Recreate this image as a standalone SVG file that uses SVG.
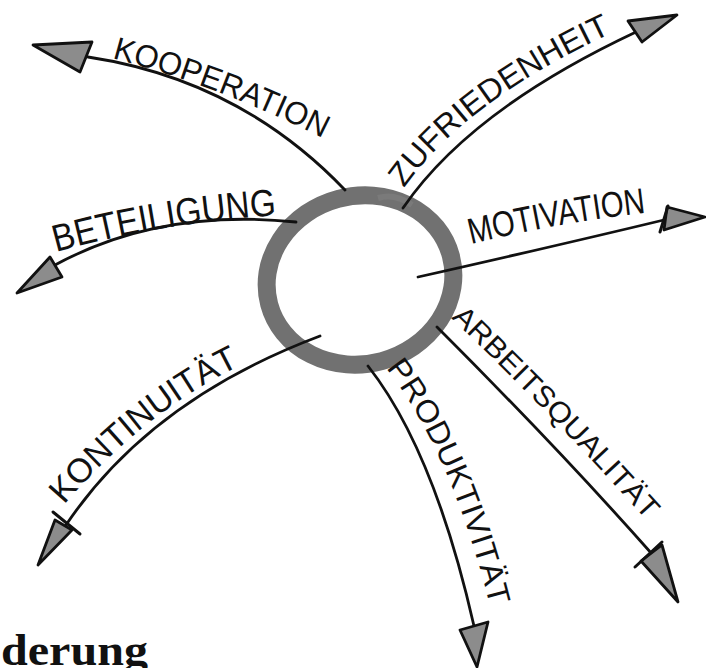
<svg xmlns="http://www.w3.org/2000/svg" width="706" height="668" viewBox="0 0 706 668">
<style>
.line{fill:none;stroke:#111;stroke-width:2.8;stroke-linecap:round}
.head{fill:#8c8c8c;stroke:#111;stroke-width:2.8;stroke-linejoin:round}
.bar{fill:none;stroke:#111;stroke-width:3;stroke-linecap:round}
.lbl{font-family:"Liberation Sans","DejaVu Sans",sans-serif;fill:#111}
.ring{fill:none;stroke:#717171;stroke-width:18}
</style>
<defs>
<path id="tp-koop" d="M112,58 Q225,88 330,142"/>
<path id="tp-bet" d="M56,252 Q165,222 282,215"/>
<path id="tp-kont" d="M64,505 Q150,405 256,358"/>
<path id="tp-prod" d="M386,368 Q454,455 494,622"/>
<path id="tp-arb" d="M451,318 Q558,420 664,540"/>
<path id="tp-mot" d="M471,244 Q560,222 652,212"/>
<path id="tp-zuf" d="M404,188 Q466,100 618,30"/>
</defs>
<rect width="706" height="668" fill="#fff"/>
<g id="center">
<ellipse class="ring" cx="360" cy="280" rx="94" ry="84" transform="rotate(-15 360 280)"/>
<path d="M378,198 Q395,193 412,205" fill="none" stroke="#7a7a7a" stroke-width="6"/>
</g>
<g id="connectors">
<path class="line" d="M345,190 Q240,80 88,57"/>
<polygon class="head" points="33,45 92,42 80,72"/>
<path class="line" d="M296,222 Q160,208 55,265"/>
<polygon class="head" points="17,293 50,257 62,277"/>
<path class="line" d="M320,336 Q150,400 66,525"/>
<polygon class="head" points="38,565 55,520 72,530"/>
<path class="bar" d="M53,512 L80,534"/>
<path class="line" d="M368,366 Q434,450 474,626"/>
<polygon class="head" points="477,667 460,630 488,622"/>
<path class="line" d="M437,327 Q560,450 652,554"/>
<polygon class="head" points="678,602 641,561 662,545"/>
<path class="bar" d="M635,567 L662,542"/>
<path class="line" d="M418,277 Q560,245 668,219"/>
<polygon class="head" points="705,217 667,207 664,230"/>
<path class="bar" d="M668,206 L660,232"/>
<path class="line" d="M403,208 Q470,110 636,32"/>
<polygon class="head" points="677,15 628,21 642,42"/>
</g>
<g id="n-kooperation"><text class="lbl" font-size="32"><textPath href="#tp-koop" textLength="226" lengthAdjust="spacingAndGlyphs">KOOPERATION</textPath></text></g>
<g id="n-beteiligung"><text class="lbl" font-size="38"><textPath href="#tp-bet" textLength="224" lengthAdjust="spacingAndGlyphs">BETEILIGUNG</textPath></text></g>
<g id="n-kontinuitaet"><text class="lbl" font-size="34"><textPath href="#tp-kont" textLength="226" lengthAdjust="spacingAndGlyphs">KONTINUITÄT</textPath></text></g>
<g id="n-produktivitaet"><text class="lbl" font-size="31"><textPath href="#tp-prod" textLength="262" lengthAdjust="spacingAndGlyphs">PRODUKTIVITÄT</textPath></text></g>
<g id="n-arbeitsqualitaet"><text class="lbl" font-size="29"><textPath href="#tp-arb" textLength="282" lengthAdjust="spacingAndGlyphs">ARBEITSQUALITÄT</textPath></text></g>
<g id="n-motivation"><text class="lbl" font-size="36"><textPath href="#tp-mot" textLength="178" lengthAdjust="spacingAndGlyphs">MOTIVATION</textPath></text></g>
<g id="n-zufriedenheit"><text class="lbl" font-size="32"><textPath href="#tp-zuf" textLength="262" lengthAdjust="spacingAndGlyphs">ZUFRIEDENHEIT</textPath></text></g>
<g id="title"><text x="1" y="665" font-family="'Liberation Serif','DejaVu Serif',serif" font-weight="bold" font-size="44" textLength="147" lengthAdjust="spacingAndGlyphs" fill="#111">derung</text></g>
</svg>
